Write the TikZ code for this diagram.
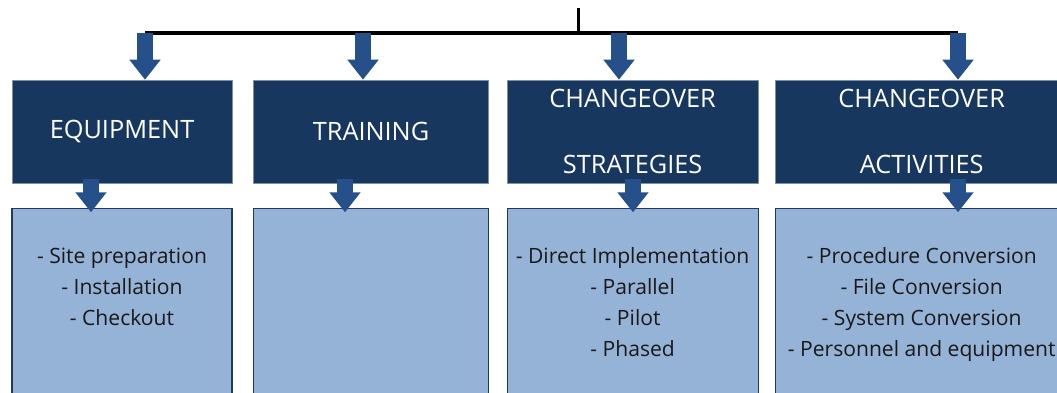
\documentclass[tikz,border=0pt]{standalone}
\usepackage{fontspec}
\setmainfont{Open Sans}
\usepackage{tikz}
\usetikzlibrary{arrows.meta, positioning}
\usepackage{xcolor}
\definecolor{navy}{HTML}{17375E}
\definecolor{headedge}{HTML}{7F8FA6}
\definecolor{lightblue}{HTML}{95B3D7}
\definecolor{listedge}{HTML}{1F3A5C}
\definecolor{arrowblue}{HTML}{25508A}

\begin{document}
\begin{tikzpicture}[
node distance=0.5cm,
headbox/.style={draw=headedge,
fill=navy,
rectangle,
minimum height=2.575cm,
text=white,
align=center,
font=\fontsize{18}{47}\selectfont},
listbox/.style={draw=listedge,
line width=0.8pt,
fill=lightblue,
rectangle,
minimum height=4.8cm},
itemtext/.style={align=center,
inner sep=0pt,
text=black!90,
font=\fontsize{15}{22}\selectfont},
arrow/.style={-{Triangle[width=0.75cm, length=0.5cm]}, line width=0.42cm, draw=arrowblue},
bar/.style={line width=0.1cm, black}
]
\clip (0,0) rectangle (26.425,-9.825);

% top boxes
\node[headbox, minimum width=5.5cm] (equip) at (3.05,-3.2875) {EQUIPMENT};
\node[headbox, minimum width=5.875cm, right=0.525cm of equip] (train) {TRAINING};
\node[headbox, minimum width=6.275cm, right=0.45cm of train] (strat) {CHANGEOVER\\STRATEGIES};
\node[headbox, minimum width=7.3cm, right=0.425cm of strat] (activ) {CHANGEOVER\\ACTIVITIES};

% lower boxes
\node[listbox, minimum width=5.5cm, below=0.625cm of equip] (equiplist) {};
\node[listbox, minimum width=5.875cm, below=0.625cm of train] (trainlist) {};
\node[listbox, minimum width=6.275cm, below=0.625cm of strat] (stratlist) {};
\node[listbox, minimum width=7.3cm, below=0.625cm of activ] (activlist) {};

\node[itemtext, below=0.98cm of equiplist.north] (equipitems) {- Site preparation\\- Installation\\- Checkout};
\node[itemtext, below=0.98cm of stratlist.north] (stratitems) {- Direct Implementation\\- Parallel\\- Pilot\\- Phased};
\node[itemtext, below=0.98cm of activlist.north] (activitems) {- Procedure Conversion\\- File Conversion\\- System Conversion\\- Personnel and equipment};

% branching bar
\coordinate (top) at (14.45,-0.2);
\coordinate (hub) at (14.45,-0.825);
\coordinate (t1) at (3.625,-0.825);
\coordinate (t2) at (9.075,-0.825);
\coordinate (t3) at (15.475,-0.825);
\coordinate (t4) at (23.95,-0.825);
\coordinate (b1) at (2.275,0);
\coordinate (b2) at (8.625,0);
\coordinate (b3) at (15.825,0);
\coordinate (b4) at (23.95,0);

\draw[line width=0.075cm] (top) -- (hub);
\draw[bar] (t1) -- (t4);

\draw[arrow] (t1) -- (t1 |- equip.north);
\draw[arrow] (t2) -- (t2 |- train.north);
\draw[arrow] (t3) -- (t3 |- strat.north);
\draw[arrow] (t4) -- (t4 |- activ.north);

\draw[arrow, shorten >=-0.1cm] ([yshift=0.1cm]b1 |- equip.south) -- (b1 |- equiplist.north);
\draw[arrow, shorten >=-0.1cm] ([yshift=0.1cm]b2 |- train.south) -- (b2 |- trainlist.north);
\draw[arrow, shorten >=-0.1cm] ([yshift=0.1cm]b3 |- strat.south) -- (b3 |- stratlist.north);
\draw[arrow, shorten >=-0.1cm] ([yshift=0.1cm]b4 |- activ.south) -- (b4 |- activlist.north);

\end{tikzpicture}
\end{document}
